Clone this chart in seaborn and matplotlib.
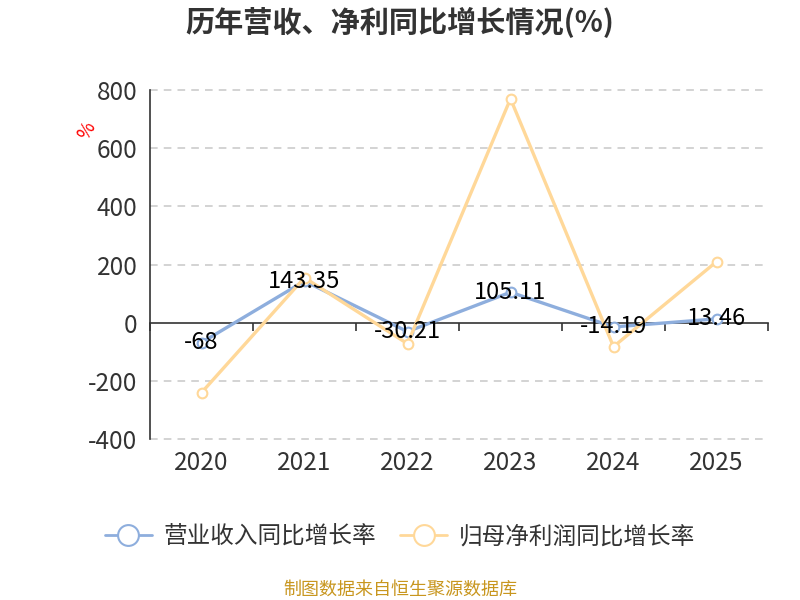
import pandas as pd
import seaborn as sns
import matplotlib.pyplot as plt
from matplotlib.lines import Line2D

years = ["2020", "2021", "2022", "2023", "2024", "2025"]
revenue_growth = [-68, 143.35, -30.21, 105.11, -14.19, 13.46]
profit_growth = [-240, 155, -72, 770, -82, 210]
revenue_name = "营业收入同比增长率"
profit_name = "归母净利润同比增长率"
y_ticks = [-400, -200, 0, 200, 400, 600, 800]

blue = "#8eaedd"
orange = "#ffd899"

sns.set_style("white")
plt.rcParams["font.family"] = ["Noto Sans CJK SC", "DejaVu Sans"]
plt.rcParams["axes.unicode_minus"] = False

df = pd.DataFrame({"year": years, "revenue": revenue_growth, "profit": profit_growth})

fig = plt.figure(figsize=(8, 6), dpi=100)
ax = fig.add_axes([0.1875, 0.268, 0.7725, 0.582])

sns.lineplot(x="year", y="revenue", data=df, ax=ax, color=blue, linewidth=2.4,
             marker="o", markersize=7, markerfacecolor="white", markeredgecolor=blue,
             markeredgewidth=1.5, zorder=3)
sns.lineplot(x="year", y="profit", data=df, ax=ax, color=orange, linewidth=2.4,
             marker="o", markersize=7, markerfacecolor="white", markeredgecolor=orange,
             markeredgewidth=1.5, zorder=4)

# data labels for revenue series
for i, v in enumerate(revenue_growth):
    ax.text(i, v, f"{v:g}", ha="center", va="center", fontsize=17, color="black", zorder=5)

ax.set_xlim(-0.5, len(years) - 0.5)
ax.set_ylim(-400, 800)
ax.set_yticks(y_ticks)
ax.set_yticklabels([str(t) for t in y_ticks])
ax.tick_params(axis="y", length=6, width=1.2, color="#333333", labelsize=17.5,
               labelcolor="#333333", pad=3)
ax.tick_params(axis="x", length=0, labelsize=17.5, labelcolor="#333333", pad=8)
ax.set_xlabel("")
ax.set_ylabel("")

for t in y_ticks:
    if t != 0:
        ax.axhline(t, color="#c8c8c8", linestyle=(0, (5, 4)), linewidth=1.1, zorder=0,
                   clip_on=False)

for s in ["top", "right", "bottom"]:
    ax.spines[s].set_visible(False)
ax.spines["left"].set_color("#333333")
ax.spines["left"].set_linewidth(1.2)

# zero line acting as the x axis, ticks at category boundaries
sec = ax.secondary_xaxis(400 / 1200)
sec.spines["bottom"].set_color("#333333")
sec.spines["bottom"].set_linewidth(1.2)
sec.set_xticks([i - 0.5 for i in range(len(years) + 1)])
sec.set_xticklabels([])
sec.tick_params(axis="x", length=6, width=1.2, color="#333333", direction="out")

fig.text(0.108, 0.782, "%", color="red", fontsize=13.5, rotation=60, ha="center", va="center")

fig.text(0.5, 0.962, "历年营收、净利同比增长情况(%)", ha="center", va="center",
         fontsize=21, fontweight="bold", color="#333333")

handles = [
    Line2D([0], [0], color=blue, linewidth=2, marker="o", markersize=15,
           markerfacecolor="white", markeredgecolor=blue, markeredgewidth=1.5),
    Line2D([0], [0], color=orange, linewidth=2, marker="o", markersize=15,
           markerfacecolor="white", markeredgecolor=orange, markeredgewidth=1.5),
]
fig.legend(handles, [revenue_name, profit_name], loc="center", bbox_to_anchor=(0.5, 0.105),
           ncol=2, frameon=False, fontsize=17, labelcolor="#333333", handlelength=2.0,
           columnspacing=1.0, handletextpad=0.5)

fig.text(0.5, 0.018, "制图数据来自恒生聚源数据库", ha="center", va="center",
         fontsize=13, color="#c8961e")

plt.savefig("out.png", dpi=100)
